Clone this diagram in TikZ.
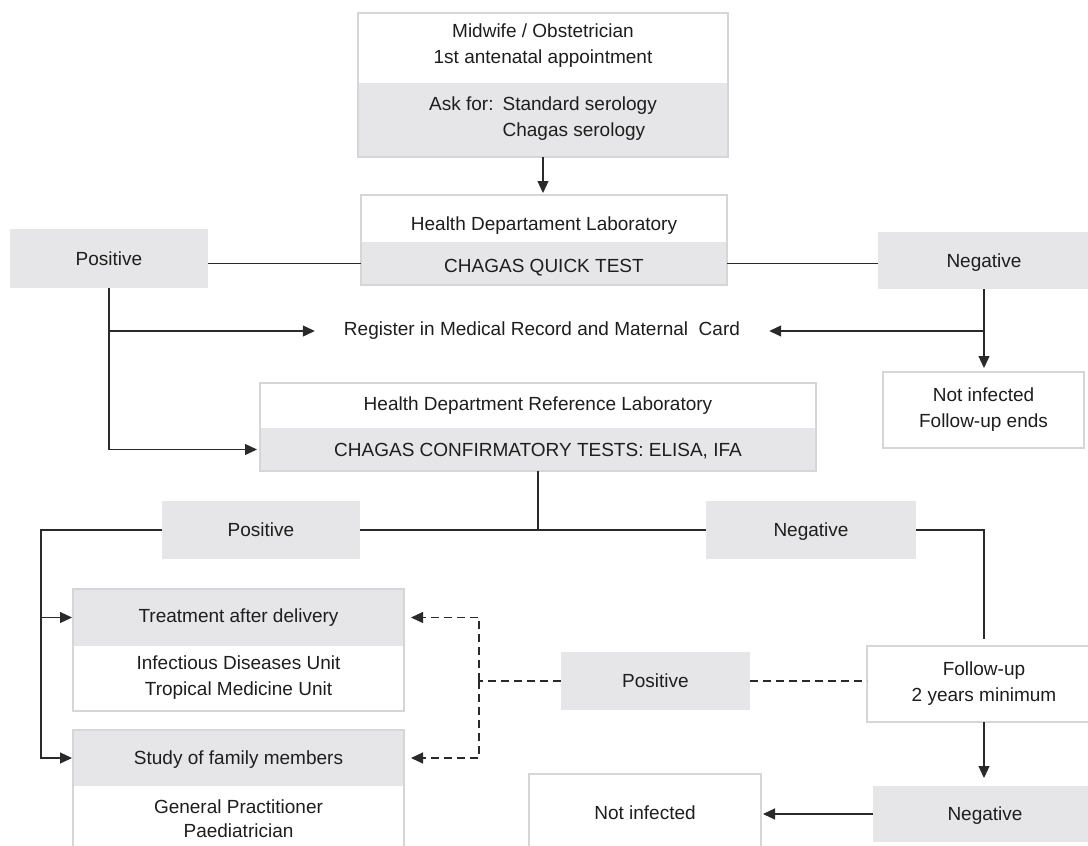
\documentclass[tikz,border=0pt]{standalone}
\usepackage{fontspec}
\setmainfont{Liberation Sans}
\usetikzlibrary{arrows.meta,calc}
\definecolor{boxgrey}{HTML}{E6E6E8}
\definecolor{bordergrey}{HTML}{D6D6D8}
\definecolor{ink}{HTML}{2A2A2A}
\definecolor{txtc}{HTML}{1E1E1E}
\begin{document}
\begin{tikzpicture}[x=1pt,y=-1pt,
  sec/.style={anchor=north west, inner sep=0pt, outer sep=0pt},
  gsec/.style={sec, fill=boxgrey},
  wsec/.style={sec, fill=white},
  frame/.style={draw=bordergrey, line width=2.4pt},
  txt/.style={font=\fontsize{19}{26}\selectfont, text=txtc, align=center, inner sep=0pt},
  oneline/.style={text height=13.7pt, text depth=0pt},
  conn/.style={draw=ink, line width=1.2pt},
  tipped/.style={-{Triangle[length=12pt,width=11pt]}},
  arr/.style={conn, tipped},
  dline/.style={conn, dash pattern=on 8pt off 5pt},
]
\useasboundingbox (0,0) rectangle (1088,846);
\clip (0,0) rectangle (1088,846);
\fill[white] (0,0) rectangle (1088,846);

% --- Midwife box
\node[wsec, minimum width=370pt, minimum height=70pt] (mw) at (358,13) {};
\node[gsec, minimum width=370pt, minimum height=74pt] (ask) at (358,83) {};
\draw[frame] (mw.north west) rectangle (ask.south east);
\node[txt] (mwT) at (543,46) {Midwife / Obstetrician\\1st antenatal appointment};
\node[txt] (askT) at (543,118) {\begin{tabular}{@{}l@{\hspace{9pt}}l@{}}Ask for: & Standard serology\\ & Chagas serology\end{tabular}};

% --- Health Departament Laboratory
\node[wsec, minimum width=366pt, minimum height=47pt] (hdl) at (361,195) {};
\node[gsec, minimum width=366pt, minimum height=43pt] (qt) at (361,242) {};
\draw[frame] (hdl.north west) rectangle (qt.south east);
\node[txt] (hdlT) at (544,226) {Health Departament Laboratory};
\node[txt, oneline] (qtT) at (544,266) {CHAGAS QUICK TEST};

% --- first Positive / Negative
\node[gsec, txt, oneline, minimum width=198pt, minimum height=59pt] (pos1) at (10,229) {Positive};
\node[gsec, txt, oneline, minimum width=212pt, minimum height=57pt] (neg1) at (878,232) {Negative};

% --- Register
\node[txt, inner xsep=29pt] (reg) at (542,331) {Register in Medical Record and Maternal\ \ Card};

% --- Not infected / follow-up ends
\node[wsec, txt, frame, minimum width=201pt, minimum height=76pt] (ni1) at (883,372) {Not infected\\Follow-up ends};

% --- Reference laboratory
\node[wsec, minimum width=556pt, minimum height=45pt] (ref) at (260,383) {};
\node[gsec, minimum width=556pt, minimum height=43pt] (cf) at (260,428) {};
\draw[frame] (ref.north west) rectangle (cf.south east);
\node[txt] (refT) at (538,406) {Health Department Reference Laboratory};
\node[txt, oneline] (cfT) at (538,450) {CHAGAS CONFIRMATORY TESTS: ELISA, IFA};

% --- second Positive / Negative
\node[gsec, txt, oneline, minimum width=198pt, minimum height=58pt] (pos2) at (162,501) {Positive};
\node[gsec, txt, oneline, minimum width=210pt, minimum height=58pt] (neg2) at (706,501) {Negative};

% --- Treatment box
\node[gsec, minimum width=331pt, minimum height=57pt] (tg) at (73,589) {};
\node[wsec, minimum width=331pt, minimum height=65pt] (tw) at (73,646) {};
\draw[frame] (tg.north west) rectangle (tw.south east);
\node[txt] (tgT) at (238.5,618) {Treatment after delivery};
\node[txt] (twT) at (238.5,678) {Infectious Diseases Unit\\Tropical Medicine Unit};

% --- Study box
\node[gsec, minimum width=331pt, minimum height=56pt] (sg) at (73,730) {};
\node[wsec, minimum width=331pt, minimum height=84pt] (sw) at (73,786) {};
\draw[frame] (sg.north west) rectangle (sw.south east);
\node[txt] (sgT) at (238.5,760) {Study of family members};
\node[txt] (swT) at (238.5,819) {General Practitioner\\[-2pt]Paediatrician};

% --- third Positive, follow-up, negative, not infected
\node[gsec, txt, oneline, minimum width=189pt, minimum height=58pt] (pos3) at (561,652) {Positive};
\node[wsec, txt, frame, minimum width=234pt, minimum height=76pt] (fu) at (867,646) {Follow-up\\2 years minimum};
\node[gsec, txt, oneline, minimum width=224pt, minimum height=56pt] (neg3) at (873,786) {Negative};
\node[wsec, frame, minimum width=232pt, minimum height=96pt] (ni2) at (529,774) {};
\node[txt] (ni2T) at (645,813) {Not infected};

% --- connectors
\draw[arr] (ask.south) -- ($(ask.south |- hdl.north)+(0,-2)$);
\draw[conn] (pos1.east |- qt.west) -- (qt.west);
\draw[conn] (qt.east) -- (qt.east -| neg1.west);
\draw[arr] (neg1.south) -- ($(neg1.south |- ni1.north)+(0,-4)$);
\draw[arr] (neg1.south |- reg.east) -- (reg.east);
\draw[arr] (pos1.south) |- ($(cf.west)+(-3,0)$);
\draw[arr] (pos1.south |- reg.west) -- (reg.west);

\draw[conn] (cf.south) -- (cf.south |- pos2.east);
\draw[conn] (pos2.east) -- (neg2.west);
\draw[conn] (neg2.east) -| ($(fu.north)+(0,-7)$);

\coordinate (lft) at (41,530);
\draw[arr] (pos2.west) -- (lft) |- ($(sg.west)+(-1,0)$);
\draw[arr] (lft |- tg.west) -- ($(tg.west)+(-1,0)$);

\coordinate (dj) at (479,681);
\draw[dline] (pos3.west) -- (dj);
\draw[dline, tipped] (dj) |- ($(tg.east)+(7,0)$);
\draw[dline, tipped] (dj) |- ($(sg.east)+(7,0)$);
\draw[dline] (pos3.east) -- (pos3.east -| fu.west);

\draw[arr] (fu.south) -- ($(fu.south |- neg3.north)+(0,-8)$);
\draw[arr] (neg3.west) -- ($(neg3.west -| ni2.east)+(2,0)$);
\end{tikzpicture}
\end{document}
